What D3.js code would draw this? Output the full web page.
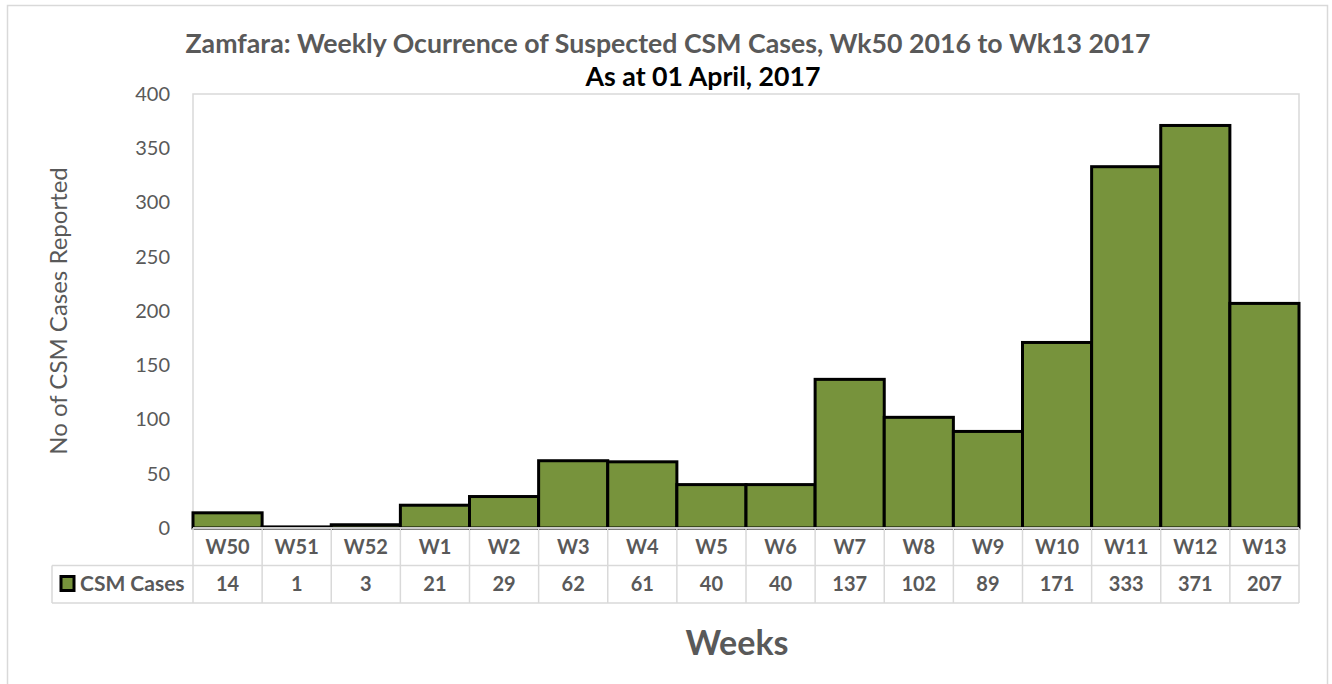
<!DOCTYPE html>
<html>
<head>
<meta charset="utf-8">
<script src="https://cdn.jsdelivr.net/npm/d3@7"></script>
<style>
  body { margin: 0; background: #fff; }
  text { font-family: Lato, "Open Sans", sans-serif; }
</style>
</head>
<body>
<svg id="chart" width="1332" height="684"></svg>
<script>
// chart data
const weeks = ["W50", "W51", "W52", "W1", "W2", "W3", "W4", "W5", "W6", "W7", "W8", "W9", "W10", "W11", "W12", "W13"];
const csmCases = [14, 1, 3, 21, 29, 62, 61, 40, 40, 137, 102, 89, 171, 333, 371, 207];
const yTicks = [0, 50, 100, 150, 200, 250, 300, 350, 400];
const seriesName = "CSM Cases";

const padding = { top: 94, left: 193, right: 1299, bottom: 528 };
const rowH = 37.5;
const labelGrey = "#595959";
const gridGrey = "#d9d9d9";
const barGreen = "#77933C";

const svg = d3.select("#chart");

// outer chart frame
svg.append("rect")
  .attr("x", 7.5).attr("y", 5.5)
  .attr("width", 1320).attr("height", 700)
  .attr("fill", "none").attr("stroke", gridGrey).attr("stroke-width", 1.5);

const xScale = d3.scaleBand()
  .domain(weeks)
  .range([padding.left, padding.right])
  .padding(0);

const yScale = d3.scaleLinear()
  .domain([0, 400])
  .range([padding.bottom, padding.top]);

// plot area border
svg.append("rect")
  .attr("x", padding.left).attr("y", padding.top)
  .attr("width", padding.right - padding.left)
  .attr("height", padding.bottom - padding.top)
  .attr("fill", "none").attr("stroke", gridGrey).attr("stroke-width", 1.5);

// y axis
const yAxis = d3.axisLeft(yScale).tickValues(yTicks).tickSize(0).tickPadding(23);
const yAxisGroup = svg.append("g")
  .attr("transform", `translate(${padding.left}, 0)`)
  .call(yAxis);
yAxisGroup.select(".domain").remove();
yAxisGroup.selectAll("text")
  .attr("fill", labelGrey)
  .style("font-size", "20px")
  .style("font-family", "Lato, sans-serif");

// bars
svg.append("g").selectAll("rect")
  .data(weeks)
  .join("rect")
  .attr("x", (d) => xScale(d))
  .attr("y", (d, i) => yScale(csmCases[i]))
  .attr("width", xScale.bandwidth())
  .attr("height", (d, i) => yScale(0) - yScale(csmCases[i]))
  .attr("fill", barGreen)
  .attr("stroke", "#000")
  .attr("stroke-width", 3);

// data table
const table = svg.append("g");
const tableTop = padding.bottom;
const legendLeft = 52;

// horizontal lines
[tableTop, tableTop + rowH, tableTop + 2 * rowH].forEach((y, i) => {
  table.append("line")
    .attr("x1", i === 0 ? padding.left : legendLeft)
    .attr("x2", padding.right)
    .attr("y1", y).attr("y2", y)
    .attr("stroke", gridGrey).attr("stroke-width", 1.5);
});
// vertical lines
weeks.forEach((w) => {
  table.append("line")
    .attr("x1", xScale(w)).attr("x2", xScale(w))
    .attr("y1", tableTop).attr("y2", tableTop + 2 * rowH)
    .attr("stroke", gridGrey).attr("stroke-width", 1.5);
});
table.append("line")
  .attr("x1", padding.right).attr("x2", padding.right)
  .attr("y1", tableTop).attr("y2", tableTop + 2 * rowH)
  .attr("stroke", gridGrey).attr("stroke-width", 1.5);
table.append("line")
  .attr("x1", legendLeft).attr("x2", legendLeft)
  .attr("y1", tableTop + rowH).attr("y2", tableTop + 2 * rowH)
  .attr("stroke", gridGrey).attr("stroke-width", 1.5);

// zero baseline
svg.append("line")
  .attr("x1", padding.left).attr("x2", padding.right)
  .attr("y1", yScale(0)).attr("y2", yScale(0))
  .attr("stroke", gridGrey).attr("stroke-width", 1.5);

table.selectAll(".cat")
  .data(weeks)
  .join("text")
  .attr("class", "cat")
  .attr("x", (d) => xScale(d) + xScale.bandwidth() / 2)
  .attr("y", tableTop + rowH / 2 + 7)
  .attr("text-anchor", "middle")
  .attr("fill", labelGrey)
  .style("font-size", "20px")
  .style("font-weight", "bold")
  .text((d) => d);

table.selectAll(".val")
  .data(csmCases)
  .join("text")
  .attr("class", "val")
  .attr("x", (d, i) => xScale(weeks[i]) + xScale.bandwidth() / 2)
  .attr("y", tableTop + rowH * 1.5 + 7)
  .attr("text-anchor", "middle")
  .attr("fill", labelGrey)
  .style("font-size", "20px")
  .style("font-weight", "bold")
  .text((d) => d);

// legend key
table.append("rect")
  .attr("x", 61).attr("y", tableTop + rowH + 11)
  .attr("width", 13).attr("height", 14)
  .attr("fill", barGreen).attr("stroke", "#000").attr("stroke-width", 3);
table.append("text")
  .attr("x", 80).attr("y", tableTop + rowH * 1.5 + 7)
  .attr("fill", labelGrey)
  .style("font-size", "21px")
  .style("font-weight", "bold")
  .text(seriesName);

// titles
svg.append("text")
  .attr("x", 668).attr("y", 53)
  .attr("text-anchor", "middle")
  .attr("fill", labelGrey)
  .style("font-size", "26px")
  .style("font-weight", "bold")
  .attr("textLength", 965)
  .attr("lengthAdjust", "spacingAndGlyphs")
  .text("Zamfara: Weekly Ocurrence of Suspected CSM Cases, Wk50 2016 to Wk13 2017");
svg.append("text")
  .attr("x", 703).attr("y", 86)
  .attr("text-anchor", "middle")
  .attr("fill", "#000")
  .style("font-size", "26px")
  .style("font-weight", "bold")
  .attr("textLength", 235)
  .attr("lengthAdjust", "spacingAndGlyphs")
  .text("As at 01 April, 2017");

// axis titles
svg.append("text")
  .attr("transform", `translate(67, ${(padding.top + padding.bottom) / 2}) rotate(-90)`)
  .attr("text-anchor", "middle")
  .attr("fill", labelGrey)
  .style("font-size", "24px")
  .text("No of CSM Cases Reported");
svg.append("text")
  .attr("x", 737).attr("y", 655)
  .attr("text-anchor", "middle")
  .attr("fill", labelGrey)
  .style("font-size", "34px")
  .style("font-weight", "bold")
  .text("Weeks");
</script>
</body>
</html>
